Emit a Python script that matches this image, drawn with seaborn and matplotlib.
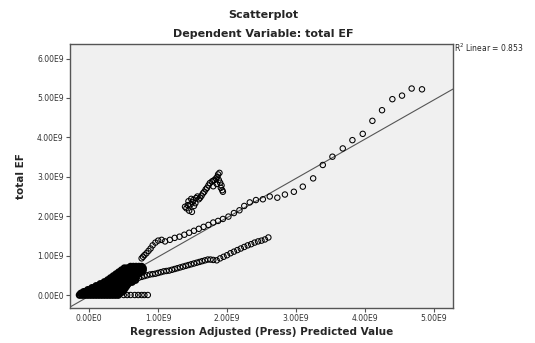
import matplotlib
matplotlib.use('Agg')
import matplotlib.pyplot as plt
from matplotlib.ticker import FuncFormatter
import seaborn as sns
import pandas as pd

# values in units of 1E9
# dense block of points near the origin, one list of x per y-level
blob_levels = [0.00, 0.04, 0.08, 0.13, 0.18, 0.23, 0.28, 0.33, 0.38, 0.43, 0.48, 0.53, 0.58, 0.63, 0.68, 0.72]
blob_xs = [
    [-0.14, -0.10, -0.06, -0.02, 0.02, 0.06, 0.10, 0.14, 0.18, 0.22, 0.26, 0.30, 0.34, 0.38, 0.42],
    [-0.12, -0.08, -0.04, 0.00, 0.04, 0.08, 0.12, 0.16, 0.20, 0.24, 0.28, 0.32, 0.36, 0.40, 0.44],
    [-0.08, -0.04, 0.00, 0.04, 0.08, 0.12, 0.16, 0.20, 0.24, 0.28, 0.32, 0.36, 0.40, 0.44, 0.48],
    [-0.02, 0.02, 0.06, 0.10, 0.14, 0.18, 0.22, 0.26, 0.30, 0.34, 0.38, 0.42, 0.46, 0.50],
    [0.04, 0.08, 0.12, 0.16, 0.20, 0.24, 0.28, 0.32, 0.36, 0.40, 0.44, 0.48, 0.52],
    [0.10, 0.14, 0.18, 0.22, 0.26, 0.30, 0.34, 0.38, 0.42, 0.46, 0.50, 0.54],
    [0.16, 0.20, 0.24, 0.28, 0.32, 0.36, 0.40, 0.44, 0.48, 0.52, 0.56],
    [0.22, 0.26, 0.30, 0.34, 0.38, 0.42, 0.46, 0.50, 0.54, 0.58, 0.62],
    [0.27, 0.31, 0.35, 0.39, 0.43, 0.47, 0.51, 0.55, 0.59, 0.63, 0.67],
    [0.31, 0.35, 0.39, 0.43, 0.47, 0.51, 0.55, 0.59, 0.63, 0.67],
    [0.35, 0.39, 0.43, 0.47, 0.51, 0.55, 0.59, 0.63, 0.67],
    [0.39, 0.43, 0.47, 0.51, 0.55, 0.59, 0.63, 0.67, 0.71],
    [0.43, 0.47, 0.51, 0.55, 0.59, 0.63, 0.67, 0.71, 0.75],
    [0.47, 0.51, 0.55, 0.59, 0.63, 0.67, 0.71, 0.75, 0.78],
    [0.51, 0.55, 0.59, 0.63, 0.67, 0.71, 0.75, 0.78],
    [0.60, 0.64, 0.68, 0.72, 0.76],
]

# flat row at zero
zero_x = [0.50, 0.55, 0.60, 0.66, 0.71, 0.76, 0.80, 0.85]
zero_y = [0.00, 0.00, 0.00, 0.00, 0.00, 0.00, 0.00, 0.00]

# lower chain
low_x = [0.72, 0.76, 0.80, 0.84, 0.88, 0.92, 0.96, 1.00, 1.04, 1.08, 1.12, 1.16, 1.20, 1.24, 1.28,
         1.32, 1.36, 1.40, 1.44, 1.48, 1.52, 1.56, 1.60, 1.64, 1.68, 1.72, 1.76, 1.80, 1.85, 1.90,
         1.95, 2.00, 2.05, 2.10, 2.15, 2.20, 2.25, 2.30, 2.35, 2.40, 2.45, 2.50, 2.55, 2.60]
low_y = [0.44, 0.46, 0.48, 0.50, 0.52, 0.53, 0.54, 0.56, 0.58, 0.60, 0.61, 0.62, 0.64, 0.66, 0.68,
         0.70, 0.72, 0.74, 0.76, 0.78, 0.80, 0.82, 0.84, 0.86, 0.88, 0.90, 0.90, 0.89, 0.88, 0.93,
         0.97, 1.01, 1.06, 1.10, 1.14, 1.18, 1.22, 1.26, 1.29, 1.33, 1.36, 1.38, 1.41, 1.46]

# upper chain
up_x = [0.76, 0.78, 0.80, 0.83, 0.86, 0.89, 0.92, 0.96, 1.00, 1.05, 1.10, 1.17, 1.24, 1.31, 1.38,
        1.45, 1.52, 1.59, 1.66, 1.73, 1.80, 1.87, 1.94, 2.02, 2.10, 2.18, 2.25, 2.33, 2.42, 2.52,
        2.62, 2.73, 2.84, 2.97, 3.10, 3.25, 3.39, 3.53, 3.68, 3.82, 3.97, 4.11, 4.25, 4.40, 4.54,
        4.68, 4.83]
up_y = [0.93, 0.97, 1.01, 1.06, 1.12, 1.18, 1.26, 1.33, 1.38, 1.40, 1.36, 1.40, 1.45, 1.48, 1.53,
        1.58, 1.63, 1.68, 1.73, 1.78, 1.84, 1.88, 1.93, 1.99, 2.08, 2.15, 2.26, 2.35, 2.41, 2.43,
        2.50, 2.47, 2.55, 2.62, 2.75, 2.96, 3.30, 3.51, 3.72, 3.93, 4.09, 4.42, 4.69, 4.97, 5.06,
        5.24, 5.22]

# isolated group around 2E9 - 3E9
grp_x = [1.39, 1.41, 1.43, 1.45, 1.47, 1.49, 1.50, 1.52, 1.54, 1.44, 1.48, 1.51, 1.55, 1.57, 1.59,
         1.61, 1.63, 1.65, 1.67, 1.69, 1.71, 1.73, 1.75, 1.78, 1.80, 1.82, 1.84, 1.86, 1.87, 1.89,
         1.88, 1.90, 1.91, 1.93, 1.94, 1.92, 1.85, 1.80]
grp_y = [2.24, 2.20, 2.28, 2.14, 2.30, 2.11, 2.36, 2.26, 2.33, 2.38, 2.44, 2.41, 2.46, 2.50, 2.43,
         2.47, 2.52, 2.58, 2.62, 2.68, 2.72, 2.78, 2.84, 2.88, 2.90, 2.92, 2.96, 3.00, 3.06, 3.10,
         2.92, 2.85, 2.72, 2.66, 2.62, 2.78, 2.82, 2.76]

# fit line
fit_slope = 0.995
fit_intercept = -0.027
r2_text = 'R$^2$ Linear = 0.853'

xticks = [0, 1, 2, 3, 4, 5]
yticks = [0, 1, 2, 3, 4, 5, 6]

bx, by = [], []
for lvl, xs in zip(blob_levels, blob_xs):
    bx += xs
    by += [lvl] * len(xs)

blob = pd.DataFrame({'pred': bx, 'ef': by})
rest = pd.DataFrame({
    'pred': zero_x + low_x + up_x + grp_x,
    'ef': zero_y + low_y + up_y + grp_y,
})


def e9(v, pos):
    if abs(v) < 1e-9:
        return '0.00E0'
    return f'{v:.2f}E9'


sns.set_style('white')
plt.rcParams['font.family'] = ['DejaVu Sans']

fig = plt.figure(figsize=(5.35, 3.43), dpi=100)
ax = fig.add_axes([0.1308, 0.102, 0.7159, 0.7697])
ax.set_facecolor('#f0f0f0')

ax.axline((0, fit_intercept), slope=fit_slope, color='#555555', lw=0.8, zorder=1)
# the overlapping cloud near zero prints as a solid black mass
sns.scatterplot(data=blob, x='pred', y='ef', ax=ax, marker='o', s=16,
                facecolors='none', edgecolor='black', linewidth=1.6, zorder=2)
sns.scatterplot(data=rest, x='pred', y='ef', ax=ax, marker='o', s=15,
                facecolors='none', edgecolor='black', linewidth=0.75, zorder=2)

ax.set_xlim(-0.28, 5.28)
ax.set_ylim(-0.33, 6.37)
ax.set_xticks(xticks)
ax.set_yticks(yticks)
ax.xaxis.set_major_formatter(FuncFormatter(e9))
ax.yaxis.set_major_formatter(FuncFormatter(e9))
ax.tick_params(axis='both', direction='out', length=3, width=0.8, color='#555555',
               labelsize=5.5, labelcolor='#333333', pad=1.5,
               bottom=True, left=True)
for sp in ax.spines.values():
    sp.set_color('#555555')
    sp.set_linewidth(1.0)

ax.set_xlabel('Regression Adjusted (Press) Predicted Value', fontsize=7.5,
              fontweight='bold', labelpad=3)
ax.set_ylabel('total EF', fontsize=7.5, fontweight='bold', labelpad=8)

fig.text(0.4925, 0.955, 'Scatterplot', ha='center', va='center',
         fontsize=8, fontweight='bold')
fig.text(0.4925, 0.902, 'Dependent Variable: total EF', ha='center', va='center',
         fontsize=8, fontweight='bold')
fig.text(0.849, 0.862, r2_text, ha='left', va='center', fontsize=5.5)

fig.savefig('out.png', dpi=100, facecolor='white')
